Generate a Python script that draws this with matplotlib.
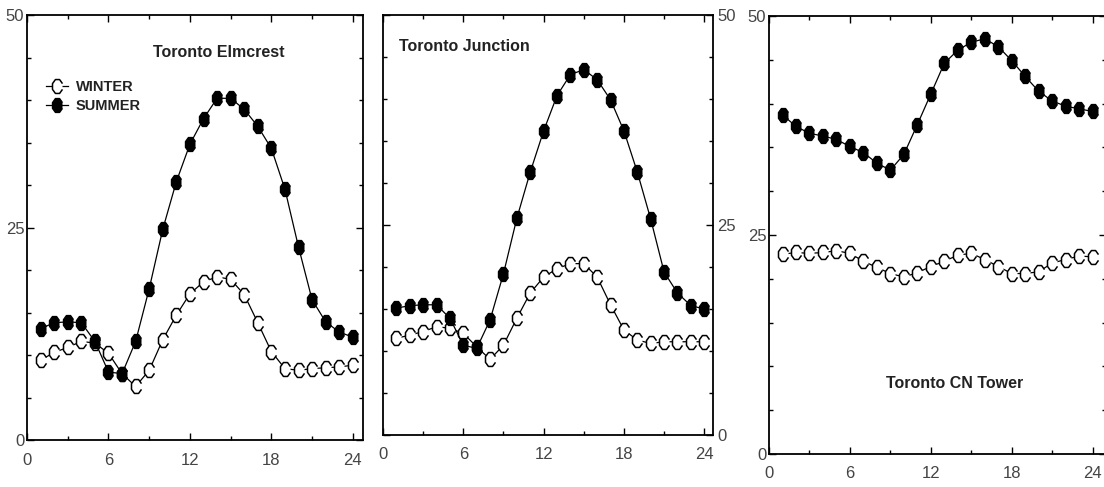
import numpy as np
import matplotlib.pyplot as plt
from matplotlib.ticker import MultipleLocator

hours = list(range(1, 25))

elmcrest_winter = [9.4, 10.3, 10.9, 11.6, 11.4, 10.2, 7.8, 6.3, 8.2, 11.8, 14.7, 17.2,
                   18.6, 19.2, 18.9, 17.1, 13.8, 10.4, 8.4, 8.2, 8.4, 8.5, 8.6, 8.8]
elmcrest_summer = [13.1, 13.8, 13.9, 13.8, 11.6, 8.0, 7.8, 11.6, 17.8, 24.8, 30.4, 34.8,
                   37.8, 40.2, 40.2, 38.9, 36.9, 34.3, 29.5, 22.7, 16.5, 13.9, 12.7, 12.1]

junction_winter = [11.5, 11.9, 12.3, 12.9, 12.7, 12.1, 10.5, 9.0, 10.7, 13.9, 16.9, 18.8,
                   19.8, 20.4, 20.4, 18.8, 15.5, 12.5, 11.3, 10.9, 11.1, 11.1, 11.1, 11.1]
junction_summer = [15.1, 15.4, 15.5, 15.5, 13.9, 10.7, 10.3, 13.7, 19.2, 25.8, 31.3, 36.2,
                   40.4, 42.9, 43.5, 42.3, 39.9, 36.2, 31.3, 25.7, 19.4, 16.9, 15.4, 15.0]

cntower_winter = [22.8, 23.0, 22.9, 23.0, 23.2, 22.9, 22.0, 21.3, 20.6, 20.2, 20.7, 21.4,
                  22.0, 22.7, 22.9, 22.2, 21.4, 20.6, 20.6, 20.8, 21.8, 22.2, 22.6, 22.5]
cntower_summer = [38.7, 37.4, 36.6, 36.3, 35.9, 35.1, 34.4, 33.2, 32.4, 34.2, 37.6, 41.1,
                  44.6, 46.1, 47.0, 47.4, 46.5, 44.9, 43.1, 41.4, 40.3, 39.7, 39.4, 39.1]

x_ticks = [0, 6, 12, 18, 24]
y_ticks = [0, 25, 50]

FONT = ['Liberation Sans', 'DejaVu Sans']
TICK_COLOR = '#444444'

# tall octagon marker, like the scanned original
ang = np.deg2rad(22.5 + 45 * np.arange(8))
octa = list(zip(0.72 * np.cos(ang), np.sin(ang)))

fig = plt.figure(figsize=(11.04, 4.87), dpi=100)

panels = [
    ([0.0245, 0.0965, 0.3043, 0.8727], 24.75, elmcrest_winter, elmcrest_summer, 'left'),
    ([0.3469, 0.1068, 0.2989, 0.8624], 24.65, junction_winter, junction_summer, 'right'),
    ([0.6966, 0.0678, 0.3053, 0.8994], 25.0, cntower_winter, cntower_summer, 'left'),
]

axes = []
for rect, xmax, winter, summer, yside in panels:
    ax = fig.add_axes(rect)
    ax.plot(hours, winter, color='black', lw=0.9, marker=octa, ms=10,
            mfc='white', mec='black', mew=1.1, label='WINTER')
    ax.plot(hours, summer, color='black', lw=0.9, marker=octa, ms=10,
            mfc='black', mec='black', mew=1.0, label='SUMMER')
    ax.set_xlim(0, xmax)
    ax.set_ylim(0, 50)
    ax.set_xticks(x_ticks)
    ax.set_yticks(y_ticks)
    ax.xaxis.set_minor_locator(MultipleLocator(3))
    ax.yaxis.set_minor_locator(MultipleLocator(5))
    ax.tick_params(which='both', direction='in', top=True, right=True,
                   width=1.0, colors='black', labelcolor=TICK_COLOR, labelsize=12)
    ax.tick_params(which='major', length=5)
    ax.tick_params(which='minor', length=3)
    ax.tick_params(axis='x', pad=9)
    if yside == 'right':
        ax.tick_params(axis='y', labelleft=False, labelright=True, pad=3)
    else:
        ax.tick_params(axis='y', pad=2)
    for lab in ax.get_xticklabels() + ax.get_yticklabels():
        lab.set_family(FONT)
    for sp in ax.spines.values():
        sp.set_linewidth(1.3)
    axes.append(ax)

title_kw = dict(fontsize=11.5, fontweight='bold', color='#222222', family=FONT,
                ha='center', va='center')
axes[0].text(14.1, 45.6, 'Toronto Elmcrest', **title_kw)
axes[1].text(6.1, 46.2, 'Toronto Junction', **title_kw)
axes[2].text(13.8, 8.1, 'Toronto CN Tower', **title_kw)

leg = axes[0].legend(loc='upper left', bbox_to_anchor=(0.04, 0.86), frameon=False,
                     borderaxespad=0, handlelength=1.5, handletextpad=0.5,
                     labelspacing=0.3, numpoints=1,
                     prop={'family': FONT, 'size': 10.5, 'weight': 'bold'})
for t in leg.get_texts():
    t.set_color('#222222')

fig.savefig('out.png', dpi=100)
